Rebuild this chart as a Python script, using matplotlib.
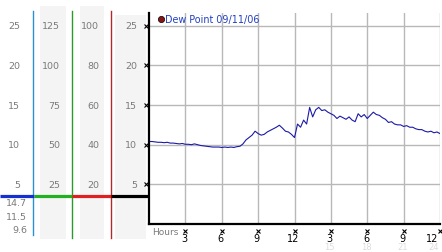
import matplotlib
matplotlib.use("Agg")
import matplotlib.pyplot as plt
import numpy as np
from matplotlib.patches import Rectangle

# dew point readings, every 15 minutes from 0h to 24h
hours = np.arange(0, 24.01, 0.25)
dew_point = [
    10.4, 10.4, 10.35, 10.3, 10.3, 10.25, 10.3, 10.2, 10.2, 10.15,
    10.1, 10.15, 10.05, 10.05, 10.0, 10.1, 10.0, 9.9, 9.85, 9.8,
    9.75, 9.7, 9.7, 9.7, 9.65, 9.7, 9.65, 9.7, 9.65, 9.75,
    9.8, 10.1, 10.6, 10.9, 11.2, 11.7, 11.4, 11.2, 11.3, 11.6,
    11.8, 12.0, 12.2, 12.45, 12.1, 11.7, 11.6, 11.3, 10.9, 12.6,
    12.2, 13.1, 12.6, 14.7, 13.5, 14.4, 14.7, 14.3, 14.4, 14.1,
    13.9, 13.7, 13.3, 13.6, 13.4, 13.2, 13.5, 13.1, 12.9, 13.9,
    13.5, 13.8, 13.3, 13.7, 14.1, 13.8, 13.7, 13.4, 13.2, 12.8,
    12.9, 12.6, 12.5, 12.5, 12.3, 12.4, 12.2, 12.2, 12.0, 11.9,
    11.9, 11.7, 11.6, 11.7, 11.5, 11.6, 11.4,
]

grid_values = [5, 10, 15, 20, 25]
hour_ticks = [3, 6, 9, 12, 15, 18, 21, 24]
hour_labels = ["3", "6", "9", "12", "3", "6", "9", "12"]
hour_labels_24 = ["15", "18", "21", "24"]

# left scale columns
col_temp = ["5", "10", "15", "20", "25"]
col_pct = ["25", "50", "75", "100", "125"]
col_press = ["20", "40", "60", "80", "100"]
col_dew = ["5", "10", "15", "20", "25"]
bottom_notes = ["14.7", "11.5", "9.6"]

W, H = 442, 253
AX_L, AX_R, AX_T, AX_B = 149, 440, 14, 225
YMAX = 26.6
GRAY_TXT = "#7a7a7a"

fig = plt.figure(figsize=(W / 100, H / 100), dpi=100)
fig.patch.set_facecolor("white")

# overlay in pixel coords for the side panel decorations
bg = fig.add_axes([0, 0, 1, 1])
bg.set_xlim(0, W)
bg.set_ylim(H, 0)
bg.axis("off")


def val_to_px(v):
    return AX_B - v * (AX_B - AX_T) / YMAX


for x0, x1, y0 in [(40, 66, 7), (80, 104, 7), (115, 146, 16)]:
    bg.add_patch(Rectangle((x0, y0), x1 - x0, 240 - y0, color="#f4f4f4", lw=0))

bg.plot([33, 33], [12, 236], color="#2b8fd6", lw=1)
bg.plot([72, 72], [12, 239], color="#2a9a2a", lw=1)
bg.plot([111, 111], [12, 239], color="#b02a2a", lw=1)

ref_y = 197
bg.plot([0, 34], [ref_y, ref_y], color="#1530d0", lw=2.3, solid_capstyle="butt")
bg.plot([34, 72], [ref_y, ref_y], color="#22b022", lw=2.3, solid_capstyle="butt")
bg.plot([72, 111], [ref_y, ref_y], color="#e02020", lw=2.3, solid_capstyle="butt")
bg.plot([111, 149], [ref_y, ref_y], color="black", lw=2.3, solid_capstyle="butt")

for i, v in enumerate(grid_values):
    y = val_to_px(v)
    for xr, lab in [(20, col_temp[i]), (60, col_pct[i]), (99, col_press[i]), (137, col_dew[i])]:
        bg.text(xr, y, lab, ha="right", va="center", fontsize=6.8, color=GRAY_TXT)

for y, lab in zip([204, 217.5, 231], bottom_notes):
    bg.text(27, y, lab, ha="right", va="center", fontsize=6.8, color=GRAY_TXT)

# main chart
ax = fig.add_axes([AX_L / W, 1 - AX_B / H, (AX_R - AX_L) / W, (AX_B - AX_T) / H])
ax.set_facecolor("none")
ax.plot(hours, dew_point, color="#1a1aa8", lw=0.8)
ax.set_xlim(0, 24)
ax.set_ylim(0, YMAX)
ax.set_xticks(hour_ticks)
ax.set_yticks(grid_values)
ax.tick_params(length=0, labelbottom=False, labelleft=False)
ax.grid(True, color="#b8b8b8", lw=1)
ax.set_axisbelow(True)
for s in ["top", "right"]:
    ax.spines[s].set_visible(False)
for s in ["left", "bottom"]:
    ax.spines[s].set_color("black")
    ax.spines[s].set_linewidth(1.6)

# small cross ticks
ax.plot([-0.012] * len(grid_values), grid_values, "x", color="black", ms=2.5, mew=0.8,
        clip_on=False, transform=ax.get_yaxis_transform())
ax.plot(hour_ticks, [-0.034] * len(hour_ticks), "x", color="black", ms=2.5, mew=0.8,
        clip_on=False, transform=ax.get_xaxis_transform())

for h, lab in zip(hour_ticks, hour_labels):
    last = h == hour_ticks[-1]
    ax.text(h - (0.1 if last else 0.1), -0.064, lab, ha="right" if last else "center",
            va="center", fontsize=7, color="black", transform=ax.get_xaxis_transform())
for h, lab in zip(hour_ticks[4:], hour_labels_24):
    last = h == hour_ticks[-1]
    ax.text(h - 0.1, -0.108, lab, ha="right" if last else "center", va="center",
            fontsize=6, color="#dcdcdc", transform=ax.get_xaxis_transform())
ax.text(0.012, -0.034, "Hours", ha="left", va="center", fontsize=6.5, color=GRAY_TXT,
        transform=ax.transAxes)

# legend
ax.plot([0.04], [0.97], "o", color="#8a1414", mec="black", mew=0.5, ms=4.5,
        transform=ax.transAxes, clip_on=False)
ax.text(0.055, 0.97, "Dew Point 09/11/06", ha="left", va="center", fontsize=6.9,
        color="#2040c0", transform=ax.transAxes)

fig.savefig("out.png", dpi=100)
